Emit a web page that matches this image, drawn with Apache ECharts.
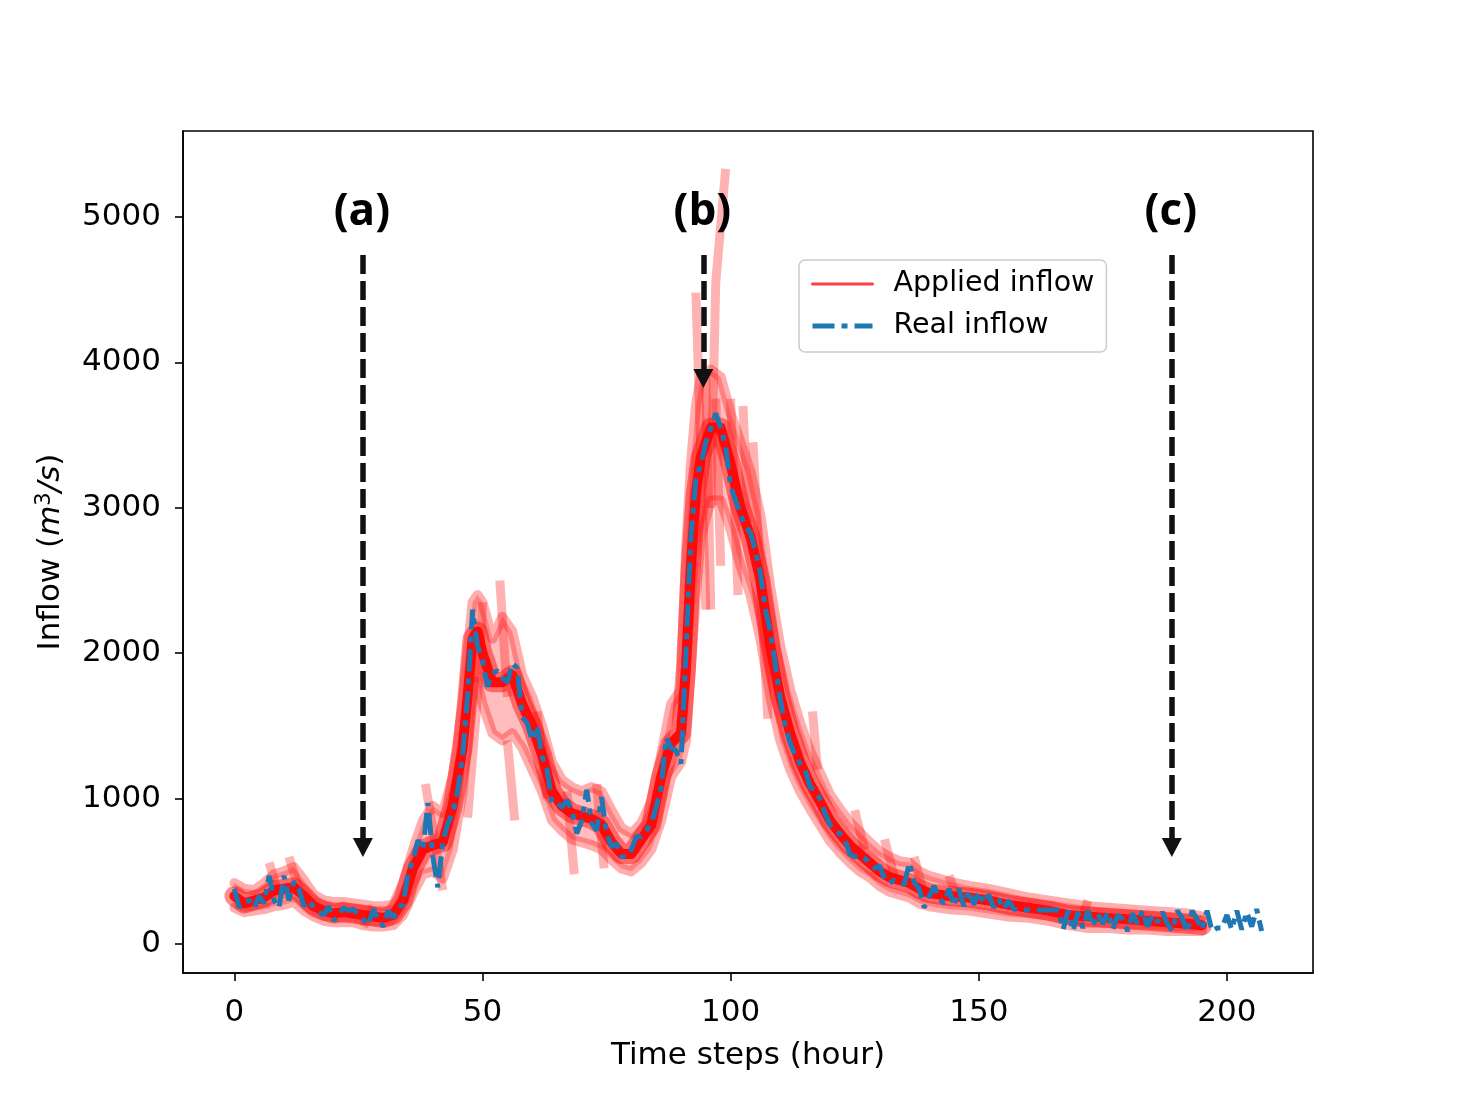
<!DOCTYPE html>
<html lang="en">
<head>
<meta charset="UTF-8">
<title>Inflow</title>
<script src="https://cdn.jsdelivr.net/npm/echarts@6.0.0/dist/echarts.min.js"></script>
<style>
  html, body { margin: 0; padding: 0; background: #fff; }
  #chart { width: 1460px; height: 1095px; }
</style>
</head>
<body>
<div id="chart"></div>
<script>
// real inflow, one value per hour (0..207)
var realInflow = [
  380,250,290,300,250,330,280,470,300,250,
  470,300,430,380,260,300,250,220,200,260,
  160,200,250,230,240,200,170,130,240,170,
  120,230,180,250,270,490,580,715,650,970,
  600,390,700,830,900,1050,1300,1700,2300,2050,
  1950,1770,1860,1880,1830,1800,1930,1900,1560,1520,
  1400,1500,1290,1200,970,970,940,990,920,760,
  850,1060,830,780,1010,760,670,690,600,600,
  650,740,740,780,830,940,1080,1420,1350,1330,
  1240,2000,2800,3200,3300,3450,3550,3650,3550,3420,
  3150,3050,2950,2870,2830,2700,2550,2300,2150,1930,
  1680,1500,1380,1300,1240,1200,1080,1060,1000,900,
  820,780,760,720,620,600,610,590,560,520,
  540,450,420,440,420,410,560,420,380,250,
  330,400,310,280,380,260,380,260,370,270,
  360,280,340,250,310,240,300,240,240,235,
  235,235,235,235,235,235,235,100,230,90,
  220,110,230,120,210,140,220,100,200,170,
  90,210,140,230,120,200,150,220,140,90,
  230,180,80,230,170,100,230,90,110,110,
  200,100,230,100,220,120,240,90
];

// applied inflow bundle, read at these hours
var bandHours = [0,2,4,6,8,10,12,14,16,18,20,22,24,26,28,30,32,34,36,38,40,42,44,46,47,48,49,50,52,54,56,58,60,62,64,66,68,70,72,74,76,78,80,82,84,86,88,90,91,92,93,94,96,98,100,102,104,106,108,110,112,114,116,118,120,122,124,126,128,130,132,134,136,138,140,144,148,152,156,160,164,168,172,176,180,184,188,192,195];
var appliedCore = [330,280,300,320,370,380,390,330,260,230,210,220,210,200,190,180,200,300,520,650,680,700,950,1350,1700,2100,2150,2000,1800,1800,1850,1650,1500,1300,1050,950,900,880,860,820,700,620,620,720,820,1150,1380,1450,1900,2600,3100,3350,3550,3550,3300,3000,2800,2500,2050,1700,1450,1250,1100,980,850,760,680,620,560,500,460,440,420,380,350,330,320,300,270,250,230,200,190,180,170,160,150,140,130];
var appliedHigh = [420,380,370,420,480,500,530,440,340,300,290,290,280,270,260,260,270,420,650,850,950,900,1150,1650,2000,2350,2400,2350,2100,2250,2150,1850,1700,1500,1250,1130,1080,1050,1080,1050,920,800,760,830,980,1300,1650,1750,2700,3300,3700,3900,3950,3900,3650,3450,3250,2950,2450,2050,1750,1520,1330,1180,1030,930,840,770,700,640,600,570,560,500,470,430,400,380,350,320,300,280,260,250,240,230,220,210,190];
var appliedLow = [250,220,230,240,260,270,290,230,190,160,150,150,150,130,120,120,130,200,350,480,500,450,650,1050,1400,1800,1800,1650,1450,1400,1450,1350,1200,1050,850,780,720,700,680,650,580,520,500,560,650,850,1150,1250,1400,1900,2400,2800,3050,3050,2850,2600,2400,2100,1700,1400,1200,1050,930,820,710,630,560,500,460,400,360,340,320,280,260,240,230,210,190,180,160,130,110,110,100,100,90,90,90];

// stray applied-inflow runs that leave the bundle, [hour, value]
var appliedSpikes = [
  [[7,560],[9,330]],
  [[11,600],[13,380]],
  [[26,120],[28,260]],
  [[38.5,1100],[42,370]],
  [[47,870],[49,1700],[50,2350]],
  [[53.5,2500],[55,1700]],
  [[55,1400],[56.5,850]],
  [[61,1600],[63,1000]],
  [[67,1050],[68.5,480]],
  [[73,1100],[74.5,520]],
  [[93,4480],[95,2300]],
  [[95,3900],[96,2300]],
  [[96,3000],[97,4550],[99,5330]],
  [[97,3750],[98,2600]],
  [[100,3750],[101.5,2400]],
  [[102.5,3700],[103.5,2900]],
  [[104.5,3450],[107.5,1550]],
  [[116.5,1600],[117.5,1200]],
  [[125,920],[127,650]],
  [[131,720],[133,460]],
  [[137,600],[139,330]],
  [[144,470],[146,290]],
  [[170,120],[172,300]]
];

// annotation arrows: label, hour, top of arrow, arrow tip
var markLabels = ['(a)', '(b)', '(c)'];
var markHours = [25.9, 94.5, 188.9];
var markTop = 4739;
var markTip = [664, 3889, 664];
var markTextY = 5028;

var xTicks = [0, 50, 100, 150, 200];
var yTicks = [0, 1000, 2000, 3000, 4000, 5000];

var FONT = 'DejaVu Sans';

function pairs(xs, ys) {
  return ys.map(function (v, i) { return [xs[i], v]; });
}

var realData = realInflow.map(function (v, i) { return [i, v]; });

var series = [];

// pale band between high and low edges
series.push({
  name: 'band', type: 'custom', silent: true, z: 1,
  data: [[bandHours[0], appliedLow[0]]],
  renderItem: function (params, api) {
    var pts = [];
    for (var i = 0; i < bandHours.length; i++) pts.push(api.coord([bandHours[i], appliedHigh[i]]));
    for (var j = bandHours.length - 1; j >= 0; j--) pts.push(api.coord([bandHours[j], appliedLow[j]]));
    return { type: 'polygon', shape: { points: pts }, style: { fill: 'rgba(255,0,0,0.26)' } };
  }
});

appliedSpikes.forEach(function (seg, k) {
  series.push({
    name: 'spike' + k, type: 'line', data: seg, symbol: 'none', silent: true, z: 2,
    lineStyle: { color: 'rgba(255,0,0,0.3)', width: 9, cap: 'butt', join: 'round' }
  });
});

series.push({
  name: 'edgeHigh', type: 'line', data: pairs(bandHours, appliedHigh), symbol: 'none', silent: true, z: 3,
  lineStyle: { color: 'rgba(255,0,0,0.32)', width: 10, join: 'round', cap: 'round' }
});
series.push({
  name: 'edgeLow', type: 'line', data: pairs(bandHours, appliedLow), symbol: 'none', silent: true, z: 3,
  lineStyle: { color: 'rgba(255,0,0,0.32)', width: 10, join: 'round', cap: 'round' }
});
series.push({
  name: 'coreWide', type: 'line', data: pairs(bandHours, appliedCore), symbol: 'none', silent: true, z: 4,
  lineStyle: { color: 'rgba(255,0,0,0.45)', width: 20, join: 'round', cap: 'round' }
});
series.push({
  name: 'Applied inflow', type: 'line', data: pairs(bandHours, appliedCore), symbol: 'none', silent: true, z: 5,
  lineStyle: { color: 'rgba(255,0,0,0.9)', width: 10, join: 'round', cap: 'round' }
});

series.push({
  name: 'Real inflow', type: 'line', data: realData, symbol: 'none', silent: true, z: 6,
  lineStyle: { color: '#1f77b4', width: 5, type: [22, 7, 6, 7], cap: 'butt' },
  markLine: {
    silent: true,
    symbol: ['none', 'triangle'],
    symbolSize: [20, 19],
    label: { show: false },
    lineStyle: { color: '#111', width: 5.5, type: [19, 7] },
    data: markHours.map(function (h, i) {
      return [{ coord: [h, markTop] }, { coord: [h, markTip[i]] }];
    })
  },
  markPoint: {
    silent: true,
    symbol: 'circle',
    symbolSize: 1,
    itemStyle: { color: 'rgba(0,0,0,0)' },
    label: {
      show: true, position: 'inside', formatter: '{b}',
      fontFamily: 'Open Sans', fontWeight: 'bold', fontSize: 44, color: '#000'
    },
    data: markLabels.map(function (t, i) {
      return { name: t, coord: [markHours[i] - 0.2, markTextY] };
    })
  }
});

function plain(v) { return String(v); }

var chart = echarts.init(document.getElementById('chart'));
chart.setOption({
  animation: false,
  backgroundColor: '#fff',
  grid: {
    left: 183, right: 147, top: 131, bottom: 122,
    show: true, borderColor: '#000', borderWidth: 1.6, backgroundColor: 'rgba(0,0,0,0)'
  },
  legend: {
    left: 799, top: 260, orient: 'vertical',
    backgroundColor: 'rgba(255,255,255,0.8)',
    borderColor: '#cccccc', borderWidth: 1.5, borderRadius: 6,
    padding: [7, 12, 9, 11],
    itemWidth: 60, itemHeight: 14, itemGap: 8,
    selectedMode: false,
    textStyle: { fontFamily: FONT, fontSize: 28.5, color: '#000', lineHeight: 34, padding: [0, 0, 0, 16] },
    data: [
      { name: 'Applied inflow', itemStyle: { opacity: 0 }, lineStyle: { color: 'rgba(255,0,0,0.75)', width: 3 } },
      { name: 'Real inflow', itemStyle: { opacity: 0 }, lineStyle: { color: '#1f77b4', width: 5, type: [22, 7, 6, 7] } }
    ]
  },
  xAxis: {
    type: 'value', min: -10.35, max: 217.35,
    splitLine: { show: false },
    axisLine: { show: true, onZero: false, lineStyle: { color: '#000', width: 1.6 } },
    axisTick: { show: true, length: 8, customValues: xTicks, lineStyle: { color: '#000', width: 1.6 } },
    axisLabel: { customValues: xTicks, formatter: plain, margin: 24, fontFamily: FONT, fontSize: 31, color: '#000' },
    name: 'Time steps (hour)', nameLocation: 'middle', nameGap: 67,
    nameTextStyle: { fontFamily: FONT, fontSize: 31, color: '#000' }
  },
  yAxis: {
    type: 'value', min: -199, max: 5591,
    splitLine: { show: false },
    axisLine: { show: true, onZero: false, lineStyle: { color: '#000', width: 1.6 } },
    axisTick: { show: true, length: 8, customValues: yTicks, lineStyle: { color: '#000', width: 1.6 } },
    axisLabel: { customValues: yTicks, formatter: plain, margin: 22, fontFamily: FONT, fontSize: 31, color: '#000' },
    name: 'Inflow ({it|m}{sup|3}{it|/s})', nameLocation: 'middle', nameGap: 107, nameRotate: 90,
    nameTextStyle: {
      fontFamily: FONT, fontSize: 31, color: '#000', lineHeight: 40,
      rich: {
        it: { fontFamily: FONT, fontStyle: 'italic', fontSize: 31, color: '#000', lineHeight: 40 },
        sup: { fontFamily: FONT, fontSize: 21, color: '#000', lineHeight: 40, padding: [0, 0, 14, 0] }
      }
    }
  },
  series: series
});
</script>
</body>
</html>
